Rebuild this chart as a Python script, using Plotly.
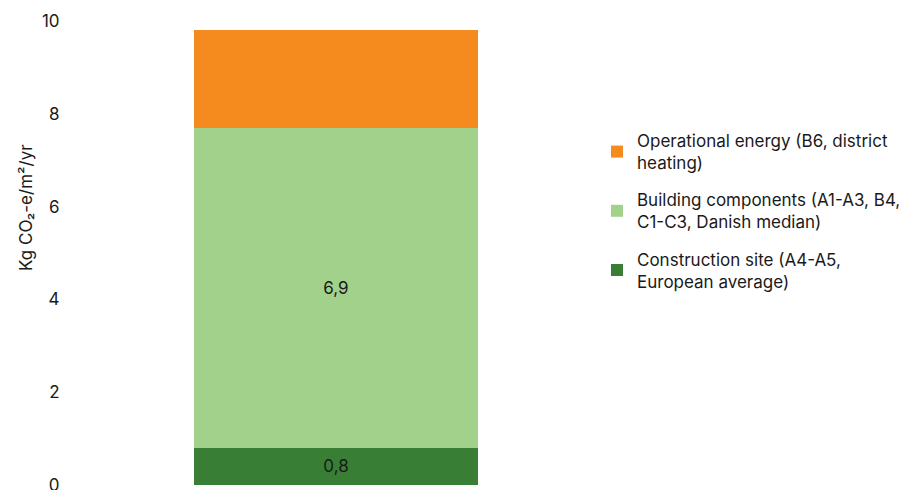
import plotly.graph_objects as go

# Embodied and operational emissions, one stacked column
category = [""]
construction_site = [0.8]
building_components = [6.9]
operational_energy = [2.1]

series_names = [
    "Construction site (A4-A5,<br>European average)",
    "Building components (A1-A3, B4,<br>C1-C3, Danish median)",
    "Operational energy (B6, district<br>heating)",
]
series_values = [construction_site, building_components, operational_energy]
series_colors = ["#387F35", "#A2D18B", "#F58B1F"]
show_labels = [True, True, False]

y_ticks = [0, 2, 4, 6, 8, 10]
y_title = "Kg CO₂-e/m²/yr"

FONT = "Inter"
TEXT = "#1a1a1a"
SIZE = 17

fig = go.Figure()
for i, (name, vals, col, lab) in enumerate(zip(series_names, series_values, series_colors, show_labels)):
    fig.add_trace(go.Bar(
        x=category,
        y=vals,
        name=name,
        marker=dict(color=col, line=dict(width=0)),
        text=[f"{v:.1f}".replace(".", ",") for v in vals] if lab else None,
        textposition="inside" if lab else "none",
        insidetextanchor="middle",
        textfont=dict(color=TEXT, size=SIZE, family=FONT),
        legendgroup=f"series{i}",
        legendrank=len(series_names) - i,
        hoverinfo="skip",
    ))

# vertical axis title, placed a little above the middle of the axis
fig.add_annotation(
    text=y_title,
    textangle=-90,
    xref="paper", yref="paper",
    x=-0.095, y=0.598,
    xanchor="center", yanchor="middle",
    showarrow=False,
    font=dict(size=SIZE, family=FONT, color=TEXT),
)

fig.update_layout(
    barmode="stack",
    bargap=0.456,
    width=914,
    height=490,
    margin=dict(l=75, r=317, t=21, b=5, autoexpand=False),
    paper_bgcolor="white",
    plot_bgcolor="white",
    separators=", ",
    font=dict(family=FONT, size=SIZE, color=TEXT),
    yaxis=dict(
        range=[0, 10],
        tickvals=y_ticks,
        showgrid=False,
        zeroline=False,
        showline=False,
        ticks="outside",
        ticklen=11,
        tickcolor="rgba(0,0,0,0)",
        ticklabeloverflow="allow",
        automargin=False,
        tickfont=dict(size=SIZE, family=FONT, color=TEXT),
    ),
    xaxis=dict(showticklabels=False, showgrid=False, zeroline=False, showline=False,
               ticks="", automargin=False),
    legend=dict(
        traceorder="grouped",
        tracegroupgap=12,
        xref="container",
        yref="container",
        x=597 / 914,
        y=1 - 123 / 490,
        xanchor="left",
        yanchor="top",
        font=dict(size=SIZE, family=FONT, color=TEXT),
        itemwidth=30,
        bgcolor="rgba(0,0,0,0)",
    ),
)

fig.write_html("out.html")
